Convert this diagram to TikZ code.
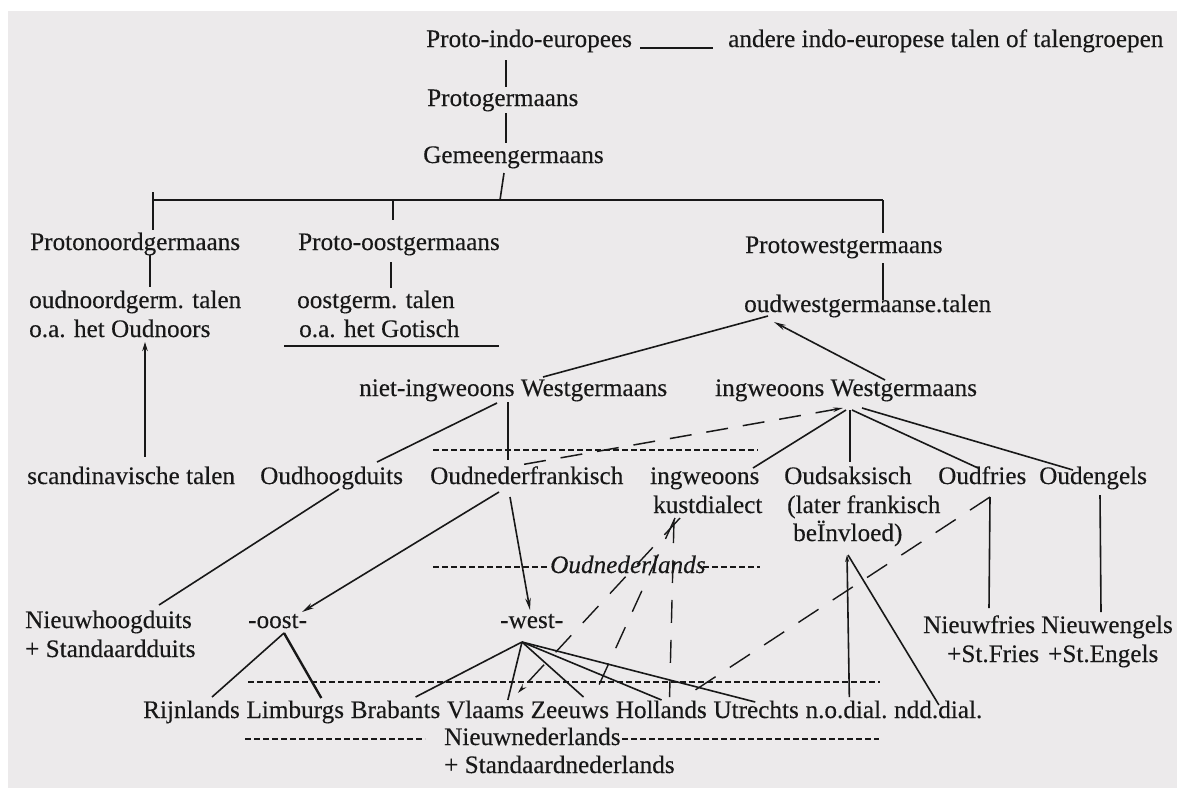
\documentclass[tikz,border=0pt]{standalone}
\usepackage{fontspec}
\setmainfont[FakeBold=0.25]{Liberation Serif}
\usetikzlibrary{arrows.meta}
\definecolor{paper}{RGB}{236,234,235}
\definecolor{ink}{RGB}{24,24,24}
\begin{document}
\begin{tikzpicture}[x=1pt,y=-1pt,
  txt/.style={inner sep=0pt, anchor=base west, text=ink, font=\fontsize{25.2}{29}\selectfont},
  con/.style={draw=ink, line width=1.6pt},
  hyph/.style={draw=ink, line width=1.2pt, dash pattern=on 6pt off 3pt},
  ldash/.style={draw=ink, line width=1.5pt, dash pattern=on 22pt off 15pt},
  tipend/.style={-{Stealth[length=12pt,width=5.5pt]}},
  tipstart/.style={{Stealth[length=12pt,width=5.5pt]}-}]
\useasboundingbox (0,0) rectangle (1177,788);
\fill[white] (0,0) rectangle (1177,788);
\fill[paper] (8,11) rectangle (1177,788);

% text nodes
\node[txt] (pie) at (426,47) {Proto-indo-europees};
\node[txt] (andere) at (728,47) {andere indo-europese talen of talengroepen};
\node[txt] (pg) at (427,106) {Protogermaans};
\node[txt] (gg) at (423,163) {Gemeengermaans};
\node[txt] (png) at (30,250) {Protonoordgermaans};
\node[txt] (pog) at (298,250) {Proto-oostgermaans};
\node[txt] (pwg) at (745,253) {Protowestgermaans};
\node[txt] (ong1) at (29,308) {oudnoordgerm. talen};
\node[txt] (ong2) at (29,337) {o.a. het Oudnoors};
\node[txt] (og1) at (297,308) {oostgerm. talen};
\node[txt] (og2) at (299,337) {o.a. het Gotisch};
\node[txt] (owg) at (744,312) {oudwestgermaanse.talen};
\node[txt] (niw) at (359,396) {niet-ingweoons Westgermaans};
\node[txt] (iw) at (715,396) {ingweoons Westgermaans};
\node[txt] (scand) at (27,484) {scandinavische talen};
\node[txt] (ohd) at (260,484) {Oudhoogduits};
\node[txt] (onf) at (430,484) {Oudnederfrankisch};
\node[txt] (ik1) at (650,484) {ingweoons};
\node[txt] (ik2) at (653,513) {kustdialect};
\node[txt] (os1) at (784,484) {Oudsaksisch};
\node[txt] (os2) at (787,513) {(later frankisch};
\node[txt] (os3) at (793,541) {beÏnvloed)};
\node[txt] (of) at (938,484) {Oudfries};
\node[txt] (oe) at (1039,484) {Oudengels};
\node[txt] (onl) at (550,573) {\itshape Oudnederlands};
\node[txt] (nhd1) at (25,628) {Nieuwhoogduits};
\node[txt] (nhd2) at (25,657) {+ Standaardduits};
\node[txt] (oost) at (248,628) {-oost-};
\node[txt] (west) at (500,628) {-west-};
\node[txt] (nf1) at (923,633) {Nieuwfries};
\node[txt] (nf2) at (947,662) {+St.Fries};
\node[txt] (ne1) at (1041,633) {Nieuwengels};
\node[txt] (ne2) at (1048,662) {+St.Engels};
\node[txt] (rijn) at (143,718) {Rijnlands};
\node[txt] (limb) at ([xshift=6.3pt]rijn.base east) {Limburgs};
\node[txt] (brab) at ([xshift=6.3pt]limb.base east) {Brabants};
\node[txt] (vl) at ([xshift=6.3pt]brab.base east) {Vlaams};
\node[txt] (ze) at ([xshift=6.3pt]vl.base east) {Zeeuws};
\node[txt] (ho) at ([xshift=6.3pt]ze.base east) {Hollands};
\node[txt] (ut) at ([xshift=6.3pt]ho.base east) {Utrechts};
\node[txt] (no) at ([xshift=6.3pt]ut.base east) {n.o.dial.};
\node[txt] (ndd) at ([xshift=6.3pt]no.base east) {ndd.dial.};
\node[txt] (nnl) at (444,745) {Nieuwnederlands};
\node[txt] (snl) at (444,773) {+ Standaardnederlands};

% bar
\coordinate (barL) at (153,200);
\coordinate (barM) at (393,200);
\coordinate (barJ) at (500,200);
\coordinate (barR) at (883,200);

% connectors
\draw[con, line width=2.4pt] ([shift={(214,1)}]pie.base west) -- ([shift={(-15,1)}]andere.base west);
\draw[con] ([shift={(80,13)}]pie.base west) -- ([shift={(79,-19)}]pg.base west);
\draw[con] ([shift={(79,7)}]pg.base west) -- ([shift={(83,-20)}]gg.base west);
\draw[con] ([shift={(81,10)}]gg.base west) -- (barJ);
\draw[con] (barL) -- (barR);
\draw[con] ([shift={(0,-8)}]barL) -- ([shift={(123,-20)}]png.base west);
\draw[con] (barM) -- ([shift={(95,-30)}]pog.base west);
\draw[con] (barR) -- ([shift={(138,-20)}]pwg.base west);
\draw[con] ([shift={(138,10)}]pwg.base west) -- ([shift={(139,-12)}]owg.base west);
\draw[con] ([shift={(120,5)}]png.base west) -- ([shift={(121,-21)}]ong1.base west);
\draw[con] ([shift={(93,12)}]pog.base west) -- ([shift={(94,-20)}]og1.base west);
\draw[con] ([shift={(-15,9)}]og2.base west) -- ([shift={(200,9)}]og2.base west);
\draw[con, line width=2.2pt, {Stealth[length=9pt,width=5.5pt]}-] ([shift={(116,5)}]ong2.base west) -- ([shift={(118,-27)}]scand.base west);
\draw[con] ([shift={(24,4)}]owg.base west) -- ([shift={(184,-19)}]niw.base west);
\draw[con, tipstart] ([shift={(30,10)}]owg.base west) -- ([shift={(170,-16)}]iw.base west);
\draw[con] ([shift={(138,7)}]niw.base west) -- ([shift={(117,-22)}]ohd.base west);
\draw[con] ([shift={(149,6)}]niw.base west) -- ([shift={(78,-24)}]onf.base west);
\draw[hyph] ([shift={(3,-34)}]onf.base west) -- ([shift={(328,-34)}]onf.base west);
\draw[ldash, {Stealth[length=10pt,width=4.5pt]}-] ([shift={(128,12)}]iw.base west) -- ([shift={(90,-19)}]onf.base west);
\draw[con] ([shift={(131,14)}]iw.base west) -- ([shift={(103,-16)}]ik1.base west);
\draw[con] ([shift={(135,14)}]iw.base west) -- ([shift={(66,-22)}]os1.base west);
\draw[con] ([shift={(137,14)}]iw.base west) -- ([shift={(40,-16)}]of.base west);
\draw[con] ([shift={(147,12)}]iw.base west) -- ([shift={(34,-14)}]oe.base west);
\draw[con] ([shift={(79,5)}]ohd.base west) -- ([shift={(134,-23)}]nhd1.base west);
\draw[con, tipend] ([shift={(69,8)}]onf.base west) -- ([shift={(54,-16)}]oost.base west);
\draw[con, tipend] ([shift={(80,13)}]onf.base west) -- ([shift={(30,-18)}]west.base west);
\draw[hyph] ([shift={(-117,-6)}]onl.base west) -- ([shift={(-2,-6)}]onl.base west);
\draw[hyph] ([shift={(153,-6)}]onl.base west) -- ([shift={(210,-6)}]onl.base west);
\draw[con] ([shift={(36,5)}]oost.base west) -- ([shift={(69,-21)}]rijn.base west);
\draw[con, line width=2.4pt] ([shift={(36,5)}]oost.base west) -- ([shift={(75,-20)}]limb.base west);
\draw[con] ([shift={(22,14)}]west.base west) -- ([shift={(65,-21)}]brab.base west);
\draw[con] ([shift={(22,14)}]west.base west) -- ([shift={(61,-18)}]vl.base west);
\draw[con] ([shift={(22,14)}]west.base west) -- ([shift={(53,-21)}]ze.base west);
\draw[con] ([shift={(22,14)}]west.base west) -- ([shift={(46,-18)}]ho.base west);
\draw[con] ([shift={(22,14)}]west.base west) -- ([shift={(42,-16)}]ut.base west);
\draw[hyph] ([shift={(2,-36)}]limb.base west) -- ([shift={(-14,-36)}]ndd.base west);
\draw[ldash, line width=1.4pt, dash pattern=on 23pt off 17pt, -{Stealth[length=10pt,width=5pt]}] ([shift={(27,5)}]ik2.base west) -- ([shift={(71,-25)}]vl.base west);
\draw[ldash, line width=1.4pt, dash pattern=on 23pt off 17pt] ([shift={(22,5)}]ik2.base west) -- ([shift={(63,-21)}]ze.base west);
\draw[ldash, line width=1.4pt, dash pattern=on 23pt off 17pt] ([shift={(21,7)}]ik2.base west) -- ([shift={(54,-21)}]ho.base west);
\draw[ldash, line width=1.4pt, dash pattern=on 24pt off 17pt] ([shift={(52,13)}]of.base west) -- ([shift={(69,-21)}]ho.base west);
\draw[con, {Stealth[length=7pt,width=4pt]}-] ([shift={(54,14)}]os3.base west) -- ([shift={(44,-21)}]no.base west);
\draw[con] ([shift={(55,14)}]os3.base west) -- ([shift={(45,-13)}]ndd.base west);
\draw[con] ([shift={(52,13)}]of.base west) -- ([shift={(66,-25)}]nf1.base west);
\draw[con] ([shift={(61,11)}]oe.base west) -- ([shift={(60,-21)}]ne1.base west);
\draw[hyph] ([shift={(-199,-6)}]nnl.base west) -- ([shift={(-19,-6)}]nnl.base west);
\draw[hyph] ([shift={(178,-6)}]nnl.base west) -- ([shift={(435,-6)}]nnl.base west);
\end{tikzpicture}
\end{document}
